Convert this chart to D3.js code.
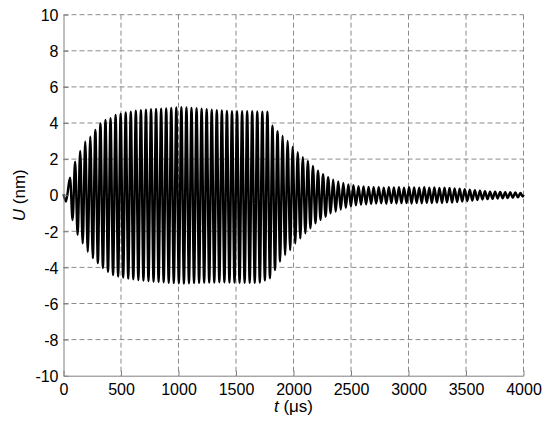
<!DOCTYPE html>
<html>
<head>
<meta charset="utf-8">
<script src="https://cdn.jsdelivr.net/npm/d3@7"></script>
<style>
  body { margin: 0; background: #fff; }
  text { font-family: "Liberation Sans", Arial, sans-serif; }
</style>
</head>
<body>
<div id="graph"></div>
<script>
// tick values
var xTicks = [0, 500, 1000, 1500, 2000, 2500, 3000, 3500, 4000];
var yTicks = [-10, -8, -6, -4, -2, 0, 2, 4, 6, 8, 10];

// signal: one positive and one negative extreme per cycle
var t0 = 57,      // time of the first positive peak (us)
  period = 44;    // oscillation period (us)

var startT = [0, 22];
var startU = [0.05, -0.35];

var peakU = [
  0.97, 1.86, 2.45, 2.96, 3.24, 3.61, 3.98, 4.17, 4.26, 4.44,
  4.52, 4.58, 4.63, 4.68, 4.71, 4.74, 4.76, 4.78, 4.79, 4.81,
  4.83, 4.86, 4.87, 4.86, 4.84, 4.82, 4.79, 4.76, 4.73, 4.71,
  4.69, 4.67, 4.66, 4.65, 4.65, 4.66, 4.65, 4.64, 4.63, 4.62,
  3.85, 3.55, 3.28, 3.0, 2.68, 2.38, 2.1, 1.9, 1.62, 1.36,
  1.16, 1.0, 0.86, 0.76, 0.68, 0.6, 0.55, 0.5, 0.48, 0.46,
  0.45, 0.44, 0.42, 0.45, 0.43, 0.44, 0.42, 0.45, 0.43, 0.42,
  0.44, 0.41, 0.43, 0.4, 0.42, 0.4, 0.38, 0.36, 0.33, 0.3,
  0.28, 0.25, 0.22, 0.2, 0.2, 0.18, 0.17, 0.16, 0.15, 0.12
];
var troughU = [
  -1.37, -2.2, -2.67, -3.13, -3.48, -3.76, -4.03, -4.24, -4.42, -4.5,
  -4.56, -4.62, -4.66, -4.7, -4.73, -4.76, -4.79, -4.81, -4.83, -4.85,
  -4.87, -4.88, -4.89, -4.88, -4.87, -4.86, -4.85, -4.84, -4.84, -4.83,
  -4.83, -4.84, -4.84, -4.85, -4.85, -4.86, -4.85, -4.84, -4.72, -4.6,
  -4.14, -3.68, -3.31, -3.04, -2.67, -2.39, -2.11, -1.84, -1.56, -1.37,
  -1.19, -1.0, -0.91, -0.8, -0.7, -0.62, -0.56, -0.52, -0.5, -0.48,
  -0.46, -0.45, -0.47, -0.44, -0.46, -0.45, -0.44, -0.46, -0.43, -0.45,
  -0.42, -0.44, -0.41, -0.43, -0.4, -0.41, -0.38, -0.35, -0.32, -0.3,
  -0.27, -0.24, -0.22, -0.2, -0.18, -0.17, -0.16, -0.14, -0.12, -0.08
];
var endT = 4000, endU = 0.02;

var width = 550,
  height = 430,
  margin = { top: 14.7, right: 26.5, bottom: 54.3, left: 63.5 },
  innerW = width - margin.left - margin.right,
  innerH = height - margin.top - margin.bottom;

// build the point list
var pts = [];
startT.forEach(function (t, i) { pts.push([t, startU[i]]); });
peakU.forEach(function (u, i) {
  var tp = t0 + i * period;
  pts.push([tp, u]);
  if (i < troughU.length) pts.push([tp + period / 2, troughU[i]]);
});
pts.push([endT, endU]);

var x = d3.scaleLinear().domain([0, 4000]).range([0, innerW]);
var y = d3.scaleLinear().domain([-10, 10]).range([innerH, 0]);

var svg = d3
  .select("div#graph")
  .append("svg")
  .attr("width", width)
  .attr("height", height);

var g = svg.append("g")
  .attr("transform", "translate(" + margin.left + "," + margin.top + ")");

// dashed grid
g.append("g")
  .attr("class", "grid")
  .selectAll("line.v")
  .data(xTicks.slice(1))
  .enter()
  .append("line")
  .attr("x1", function (d) { return x(d); })
  .attr("x2", function (d) { return x(d); })
  .attr("y1", 0)
  .attr("y2", innerH)
  .style("stroke", "#8a8a8a")
  .style("stroke-width", 1)
  .style("stroke-dasharray", "5,3");

g.append("g")
  .attr("class", "grid")
  .selectAll("line.h")
  .data(yTicks.slice(1))
  .enter()
  .append("line")
  .attr("x1", 0)
  .attr("x2", innerW)
  .attr("y1", function (d) { return y(d); })
  .attr("y2", function (d) { return y(d); })
  .style("stroke", "#8a8a8a")
  .style("stroke-width", 1)
  .style("stroke-dasharray", "5,3");

// signal
var line = d3.line()
  .x(function (d) { return x(d[0]); })
  .y(function (d) { return y(d[1]); })
  .curve(d3.curveMonotoneX);

g.append("path")
  .datum(pts)
  .attr("d", line)
  .style("fill", "none")
  .style("stroke", "#000")
  .style("stroke-width", 2.4)
  .style("stroke-linejoin", "round");

// axes
var fmt = function (d) { return String(d); };
var xAxis = d3.axisBottom(x).tickValues(xTicks).tickFormat(fmt)
  .tickSize(-5).tickSizeOuter(0).tickPadding(8);
var yAxis = d3.axisLeft(y).tickValues(yTicks).tickFormat(fmt)
  .tickSize(-5).tickSizeOuter(0).tickPadding(5);

var gx = g.append("g")
  .attr("transform", "translate(0," + innerH + ")")
  .call(xAxis);
var gy = g.append("g").call(yAxis);

[gx, gy].forEach(function (a) {
  a.selectAll("path, line").style("stroke", "#808080").style("stroke-width", 1);
  a.selectAll("text").style("font-size", "16px").style("fill", "#000")
    .style("font-family", "'Liberation Sans', Arial, sans-serif");
});
gy.selectAll("text").attr("dy", "0.36em");

// axis labels
svg.append("text")
  .attr("x", margin.left + innerW / 2)
  .attr("y", 412)
  .attr("text-anchor", "middle")
  .style("font-size", "17px")
  .html('<tspan font-style="italic">t</tspan> (\u03bcs)');

svg.append("text")
  .attr("transform", "translate(25," + (margin.top + innerH / 2) + ") rotate(-90)")
  .attr("text-anchor", "middle")
  .style("font-size", "17px")
  .html('<tspan font-style="italic">U</tspan> (nm)');
</script>
</body>
</html>
